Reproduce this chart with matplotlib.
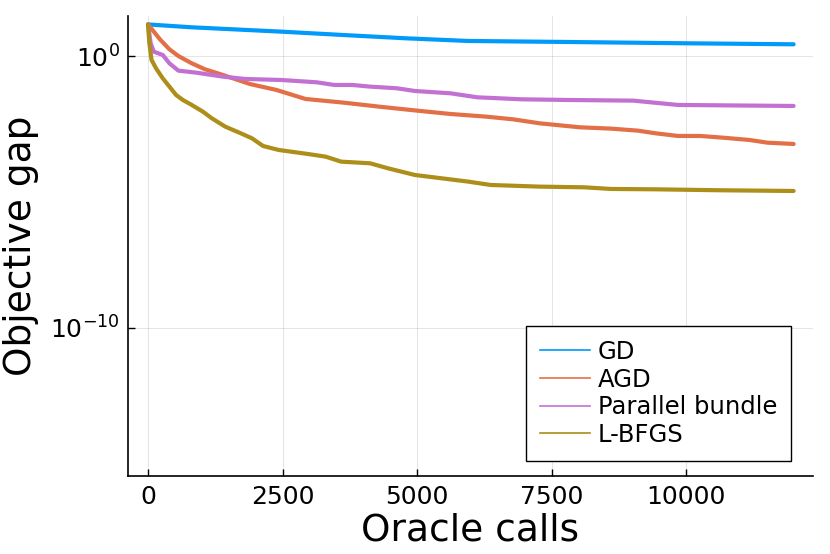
import numpy as np
import matplotlib.pyplot as plt
from matplotlib.lines import Line2D

# values (x = oracle calls, y = log10 of objective gap)
gd_x = [0, 813, 2471, 3632, 4793, 5954, 7778, 10017, 12000]
gd_log = [1.18, 1.074, 0.915, 0.79, 0.669, 0.571, 0.534, 0.485, 0.448]

agd_x = [0, 232, 398, 564, 813, 1061, 1393, 1891, 2388, 2927, 3632, 4295, 5000,
         5622, 6285, 6783, 7280, 8027, 8607, 9105, 9436, 9851, 10266, 10680,
         11178, 11510, 12000]
agd_log = [1.18, 0.608, 0.264, 0.018, -0.252, -0.473, -0.681, -1.013, -1.234,
           -1.565, -1.70, -1.848, -1.995, -2.118, -2.216, -2.314, -2.462, -2.609,
           -2.658, -2.732, -2.830, -2.928, -2.928, -2.990, -3.075, -3.174, -3.223]

pb_x = [0, 50, 108, 274, 398, 564, 896, 1393, 1808, 2471, 3134, 3466, 3798,
        4129, 4627, 4959, 5622, 6119, 6949, 7778, 9022, 9851, 12000]
pb_log = [1.18, 0.485, 0.178, 0.055, -0.252, -0.522, -0.596, -0.743, -0.829,
          -0.866, -0.951, -1.050, -1.050, -1.111, -1.172, -1.271, -1.357, -1.504,
          -1.578, -1.602, -1.627, -1.786, -1.823]

lbfgs_x = [0, 25, 66, 149, 274, 398, 522, 647, 813, 1020, 1186, 1435, 1725,
           1932, 2139, 2430, 2969, 3300, 3590, 4129, 4461, 4959, 5456, 5954,
           6368, 7280, 8110, 8607, 9436, 10680, 12000]
lbfgs_log = [1.18, 0.485, -0.129, -0.436, -0.804, -1.111, -1.418, -1.602, -1.786,
             -2.032, -2.277, -2.584, -2.830, -3.014, -3.297, -3.444, -3.591,
             -3.689, -3.874, -3.935, -4.119, -4.365, -4.487, -4.610, -4.733,
             -4.794, -4.819, -4.880, -4.893, -4.929, -4.954]

labels = ['GD', 'AGD', 'Parallel bundle', 'L-BFGS']
colors = ['#009AFA', '#E36F47', '#C271D2', '#AC8E18']
series = [(gd_x, gd_log), (agd_x, agd_log), (pb_x, pb_log), (lbfgs_x, lbfgs_log)]

plt.rcParams['font.family'] = ['DejaVu Sans']
plt.rcParams['mathtext.default'] = 'regular'

fig = plt.figure(figsize=(8.3, 5.54), dpi=100)
ax = fig.add_axes([0.1542, 0.1399, 0.8253, 0.8312])

for (xs, ys), c in zip(series, colors):
    ax.plot(xs, 10.0 ** np.array(ys), color=c, linewidth=3.0, solid_capstyle='round')

ax.set_yscale('log')
ax.set_xlim(-372, 12360)
ax.set_ylim(10 ** -15.47, 10 ** 1.49)
ax.set_xticks([0, 2500, 5000, 7500, 10000])
ax.set_yticks([1, 1e-10])
ax.set_yticklabels([r'$10^{0}$', r'$10^{-10}$'])
ax.minorticks_off()
ax.tick_params(direction='in', length=5, width=1, labelsize=18, pad=6)
ax.grid(True, color='black', alpha=0.1, linewidth=0.8)
for side in ['top', 'right']:
    ax.spines[side].set_visible(False)
for side in ['left', 'bottom']:
    ax.spines[side].set_linewidth(1.2)

ax.set_xlabel('Oracle calls', fontsize=27, labelpad=3)
ax.set_ylabel('Objective gap', fontsize=27, labelpad=8)

handles = [Line2D([], [], color=c, linewidth=1.2) for c in colors]
leg = ax.legend(handles, labels, loc='lower right', fontsize=17.5, frameon=True,
                fancybox=False, edgecolor='black', framealpha=1,
                handlelength=2.05, handletextpad=0.3, borderpad=0.58,
                labelspacing=0.15, borderaxespad=0,
                bbox_to_anchor=(0.968, 0.0337))
leg.get_frame().set_linewidth(1.0)

fig.savefig('out.png', dpi=100)
